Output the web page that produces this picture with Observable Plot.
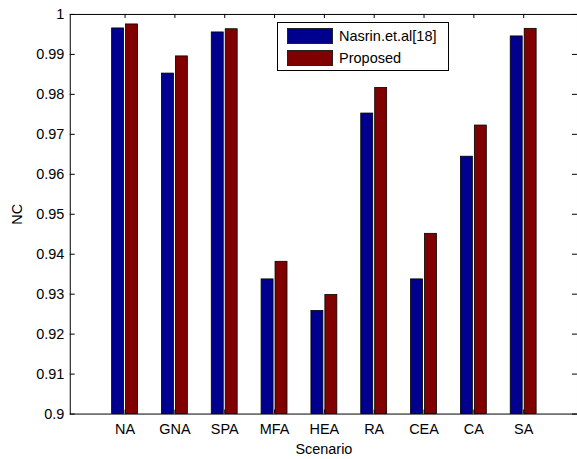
<!DOCTYPE html>
<html>
<head>
<meta charset="utf-8">
<script src="https://cdn.jsdelivr.net/npm/d3@7"></script>
<script src="https://cdn.jsdelivr.net/npm/@observablehq/plot@0.6"></script>
<style>
  html, body { margin: 0; padding: 0; background: #fff; overflow: hidden; }
  #wrap { position: relative; width: 577px; height: 459px; overflow: hidden; font-family: "Liberation Sans", Arial, Helvetica, sans-serif; }
  #legend { position: absolute; left: 277px; top: 22px; width: 170px; height: 47px; border: 1px solid #000; background: #fff; font-size: 14.5px; color: #000; }
  .row { position: absolute; left: 9px; height: 17px; display: flex; align-items: center; white-space: nowrap; }
  .sw { width: 46px; height: 16px; border: 1px solid #222; margin-right: 6px; box-sizing: border-box; }
</style>
</head>
<body>
<div id="wrap"></div>
<script>
const scenarios = ["NA", "GNA", "SPA", "MFA", "HEA", "RA", "CEA", "CA", "SA"];
const seriesNames = ["Nasrin.et.al[18]", "Proposed"];
const nasrin   = [0.9965, 0.9852, 0.9955, 0.9337, 0.9258, 0.9752, 0.9337, 0.9644, 0.9945];
const proposed = [0.9975, 0.9895, 0.9963, 0.9381, 0.9298, 0.9816, 0.9451, 0.9722, 0.9964];
const seriesColors = ["#00008F", "#800000"];
const yTicks = [0.9, 0.91, 0.92, 0.93, 0.94, 0.95, 0.96, 0.97, 0.98, 0.99, 1];

const W = 579, H = 459, mL = 70, mR = 0, mT = 14, mB = 44;
const plotW = W - mL - mR, plotH = H - mT - mB;
const FS = 14.5;

const rows = scenarios.map((s, i) => ({scenario: s, a: nasrin[i], b: proposed[i]}));
const base = yTicks[0];

const chart = Plot.plot({
  width: W, height: H,
  marginLeft: mL, marginRight: mR, marginTop: mT, marginBottom: mB,
  style: {fontFamily: '"Liberation Sans", Arial, Helvetica, sans-serif', fontSize: FS + "px", color: "#000", background: "#fff", overflow: "visible"},
  x: {type: "band", domain: scenarios, paddingInner: 0.77, paddingOuter: 0.885, axis: null},
  y: {domain: [yTicks[0], yTicks[yTicks.length - 1]], axis: null},
  marks: [
    Plot.barY(rows, {x: "scenario", y1: () => base, y2: "a", fill: seriesColors[0], stroke: "#000", strokeWidth: 0.8, dx: -7}),
    Plot.barY(rows, {x: "scenario", y1: () => base, y2: "b", fill: seriesColors[1], stroke: "#000", strokeWidth: 0.8, dx: 7}),
    Plot.frame({stroke: "#000", strokeWidth: 1}),
    Plot.tickY(yTicks, {y: d => d, stroke: "#000", insetRight: plotW - 5}),
    Plot.tickY(yTicks, {y: d => d, stroke: "#000", insetLeft: plotW - 5}),
    Plot.tickX(scenarios, {x: d => d, stroke: "#000", insetBottom: plotH - 4}),
    Plot.tickX(scenarios, {x: d => d, stroke: "#000", insetTop: plotH - 4}),
    Plot.axisY(yTicks, {tickSize: 0, tickPadding: 6, tickFormat: d => String(d), fill: "#000", fontSize: FS, label: null}),
    Plot.axisX({tickSize: 0, tickPadding: 10, fill: "#000", fontSize: FS, label: null}),
    Plot.text(["Scenario"], {frameAnchor: "bottom", text: d => d, dy: 35.5, lineAnchor: "middle", textAnchor: "middle", fill: "#000", fontSize: FS}),
    Plot.text(["NC"], {frameAnchor: "left", text: d => d, dx: -53, rotate: -90, lineAnchor: "middle", textAnchor: "middle", fill: "#000", fontSize: FS})
  ]
});

const wrap = document.getElementById("wrap");
wrap.appendChild(chart);

const legend = document.createElement("div");
legend.id = "legend";
seriesNames.forEach((name, i) => {
  const r = document.createElement("div");
  r.className = "row";
  r.style.top = (i === 0 ? 4 : 26) + "px";
  const sw = document.createElement("div");
  sw.className = "sw";
  sw.style.background = seriesColors[i];
  const t = document.createElement("span");
  t.textContent = name;
  r.appendChild(sw); r.appendChild(t);
  legend.appendChild(r);
});
wrap.appendChild(legend);
</script>
</body>
</html>
